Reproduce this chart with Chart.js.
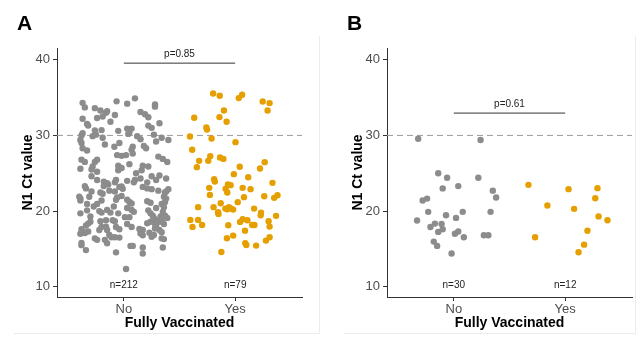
<!DOCTYPE html>
<html>
<head>
<meta charset="utf-8">
<script src="https://cdn.jsdelivr.net/npm/chart.js@4"></script>
<style>
  body { margin: 0; background: #fff; width: 643px; height: 342px; overflow: hidden; position: relative; }
  .panel { position: absolute; top: 0; height: 342px; }
  #panel-a { left: 0; width: 320px; }
  #panel-b { left: 330px; width: 313px; }
</style>
</head>
<body>
<div class="panel" id="panel-a"><canvas id="chart-a"></canvas></div>
<div class="panel" id="panel-b"><canvas id="chart-b"></canvas></div>
<script>
const categories = ['No', 'Yes'];
const yTicks = [10, 20, 30, 40];
const threshold = 30;

// panel A: all cases, jitter offset from the category centre + N1 Ct value
const noJitterA = [
  0.10, -0.065, -0.37, 0.03, 0.28, 0.28, -0.35, -0.26, -0.21, -0.15, -0.16, -0.08, 0.15, 0.19,
  0.22, -0.24, -0.19, -0.37, -0.33, -0.32, 0.22, 0.25, 0.03, 0.07, -0.12, 0.32,
  -0.26, -0.20, -0.37, -0.38, -0.28, -0.25, 0.04, 0.05, -0.05, 0.27, 0.34, 0.40, 0.12, 0.15, -0.39, -0.19, 0.18, 0.29,
  -0.38, 0.20, -0.085, -0.17, -0.04, 0.08, 0.07, -0.37, -0.33, 0.08, -0.02, 0.02, -0.06, 0.31,
  0.35, 0.39, 0.05, -0.38, -0.35, -0.24, -0.26, -0.39, -0.29, -0.28, -0.05, -0.02, -0.05, 0.22, 0.17, 0.16, 0.11, -0.24,
  0.10, 0.03, 0.32, 0.38, -0.07, -0.08, -0.18, -0.18, -0.14, -0.15, 0.09, -0.35, -0.34, -0.29, -0.24, 0.25, 0.29, 0.15, -0.04, -0.01, -0.02, 0.21,
  -0.40, -0.39, -0.39, -0.29, -0.21, -0.19, -0.13, -0.08, 0.17, 0.21, 0.25, 0.31, 0.37, 0.40, 0.38, -0.02, -0.06, -0.07, 0.03, 0.05, 0.07, 0.21, 0.24, 0.36, 0.38, -0.31,
  0.37, 0.34, 0.36, -0.20, -0.24, -0.27, -0.33, -0.33, -0.22, -0.20, -0.15, -0.12, -0.05, 0.03, 0.07, 0.09, 0.22, 0.24, 0.29, 0.35, 0.26, 0.27, 0.33, 0.37, 0.39, 0.05, 0.01, -0.39, -0.30, -0.09,
  0.29, 0.32, 0.34, 0.36, 0.28, 0.29, 0.24, 0.21, -0.10, -0.08, -0.16, -0.21, -0.30, -0.32, -0.34, -0.38, -0.36, -0.39, -0.35, -0.32, -0.20, -0.16, -0.22, -0.15, -0.07, -0.04, 0.03, 0.07, 0.14, 0.17,
  0.28, 0.32, 0.34, 0.23, 0.25, 0.27, 0.34, 0.36, 0.15, 0.17, -0.13, -0.11, -0.08, -0.04, -0.26, -0.24, -0.17, -0.15, -0.38, -0.38, 0.06, 0.08,
  0.17, 0.17, -0.34, 0.35, -0.07,
  0.02
];
const noCtA = [
  34.9, 34.5, 34.3, 34.2, 34.1, 33.8, 33.7, 33.6, 33.3, 33.2, 33.0, 32.7, 33.1, 32.8,
  32.4, 32.3, 32.5, 32.2, 31.5, 31.3, 31.3, 31.0, 30.9, 30.9, 31.8, 31.6,
  30.65, 30.7, 30.3, 30.0, 29.9, 30.1, 30.2, 30.4, 30.6, 30.1, 29.7, 29.4, 29.9, 29.5, 29.4, 29.7, 28.6, 29.2,
  29.0, 28.3, 28.5, 28.8, 29.0, 28.5, 28.1, 28.3, 28.0, 27.6, 27.3, 27.4, 27.4, 27.2,
  26.9, 26.5, 26.2, 26.8, 26.5, 26.8, 26.5, 25.6, 25.5, 25.9, 26.0, 25.7, 25.4, 25.9, 26.0, 25.4, 25.0, 25.2,
  24.1, 24.0, 24.7, 24.3, 24.1, 23.8, 23.9, 23.3, 23.5, 23.7, 23.8, 23.3, 23.0, 24.6, 24.1, 24.6, 24.1, 24.3, 23.2, 22.95, 23.25, 23.8,
  21.9, 21.65, 21.4, 22.6, 22.45, 22.3, 22.7, 22.6, 23.2, 23.0, 22.9, 22.7, 22.45, 22.9, 22.6, 22.0, 21.8, 21.5, 21.5, 21.2, 21.0, 21.3, 21.1, 21.9, 21.65, 21.9,
  21.2, 20.95, 20.5, 21.4, 20.95, 20.6, 20.95, 20.1, 20.0, 19.8, 20.15, 19.8, 19.7, 20.4, 20.15, 19.9, 20.1, 19.7, 20.4, 19.9, 19.4, 19.1, 19.3, 19.4, 19.1, 19.2, 19.2, 19.7, 19.3, 20.6,
  18.8, 18.6, 18.8, 18.3, 18.3, 18.0, 18.6, 18.4, 18.8, 18.65, 18.8, 18.65, 18.6, 18.35, 18.1, 17.6, 17.2, 17.0, 17.1, 17.3, 17.9, 17.95, 17.5, 17.5, 17.9, 17.6, 18.3, 17.9, 17.65, 17.5,
  17.7, 17.5, 17.2, 17.15, 16.6, 16.85, 16.4, 16.3, 17.05, 16.8, 16.85, 16.55, 16.55, 16.5, 16.4, 16.2, 16.2, 15.75, 15.8, 15.5, 15.4, 15.4,
  15.2, 14.4, 14.85, 15.2, 14.55,
  12.35
];
const yesJitterA = [
  -0.198, -0.139, 0.032, 0.062, 0.247, 0.309, 0.291, -0.101, -0.368, -0.141,
  -0.077, -0.259, -0.253, -0.406, -0.212, 0.003, -0.386, -0.224, -0.136, -0.106,
  -0.324, -0.242, 0.265, -0.344, 0.041, 0.223, -0.012, 0.117, -0.189, -0.183,
  0.335, -0.065, -0.041, -0.233, 0.067, 0.138, -0.086, -0.071, -0.227, 0.079,
  0.261, 0.35, 0.38, 0.023, -0.13, -0.333, -0.194, -0.088, -0.056, -0.035,
  -0.071, -0.018, 0.17, -0.154, -0.15, 0.232, 0.229, 0.367, -0.403, -0.333,
  -0.383, -0.297, -0.062, 0.044, 0.067, 0.11, 0.153, 0.173, 0.3, 0.309,
  0.088, -0.074, -0.018, 0.091, 0.1, 0.188, 0.276, 0.309, -0.124
];
const yesCtA = [
  35.54, 35.24, 34.93, 35.37, 34.48, 34.27, 33.29, 33.29, 32.33, 32.42,
  31.8, 31.04, 30.78, 29.85, 29.59, 29.11, 28.1, 27.26, 27.08, 26.9,
  26.64, 26.64, 26.47, 25.81, 25.85, 25.62, 24.88, 24.48, 24.22, 23.9,
  23.73, 23.51, 23.43, 23.07, 23.07, 22.9, 22.94, 22.45, 22.14, 21.84,
  21.97, 21.75, 22.1, 21.18, 21.04, 20.52, 20.52, 20.33, 20.52, 20.33,
  20.25, 20.2, 20.33, 19.85, 19.63, 19.8, 19.46, 19.37, 18.84, 18.84,
  17.91, 18.17, 18.13, 18.57, 18.93, 18.8, 18.17, 18.17, 18.66, 17.95,
  17.42, 16.42, 16.76, 15.75, 15.53, 15.44, 16.1, 16.55, 14.6
];

// panel B
const noJitterB = [
  -0.32, 0.24, -0.14, -0.06, 0.22, -0.10, 0.04, 0.35, 0.38, -0.28,
  -0.24, -0.23, 0.08, 0.33, -0.33, -0.07, 0.02, -0.17, -0.11, -0.21,
  -0.10, -0.14, 0.04, 0.01, 0.09, 0.27, 0.31, -0.18, -0.15, -0.02
];
const noCtB = [
  29.55, 29.4, 25.0, 24.4, 24.4, 23.0, 23.3, 22.7, 21.8, 21.4,
  21.65, 19.9, 19.9, 19.9, 18.75, 19.45, 19.1, 18.35, 18.3, 17.9,
  17.6, 17.25, 17.3, 17.0, 16.55, 16.8, 16.8, 15.97, 15.4, 14.4
];
const yesJitterB = [-0.33, 0.03, -0.16, 0.08, -0.27, 0.20, 0.17, 0.12, 0.29, 0.27, 0.30, 0.38];
const yesCtB = [23.47, 22.9, 20.73, 20.3, 16.55, 17.4, 15.57, 14.56, 23.03, 21.7, 19.3, 18.8];

const panelLetters = ['A', 'B'];
const pLabels = ['p=0.85', 'p=0.61'];
const pBarCt = [39.55, 32.95];

const font = 'Liberation Sans, Arial, sans-serif';
const pointColors = ['#8c8c8c', '#e69f00'];

function toPoints(jitter, ct, group) {
  return ct.map((v, i) => ({ x: group + jitter[i], y: v }));
}

// dashed cut-off, p-value bracket, group sizes and panel letter
const annotations = {
  id: 'annotations',
  beforeDatasetsDraw(chart, args, opts) {
    const { ctx, chartArea, scales } = chart;
    const y = scales.y.getPixelForValue(threshold);
    ctx.save();
    ctx.strokeStyle = '#9a9a9a';
    ctx.lineWidth = 1;
    ctx.setLineDash([6, 4]);
    ctx.beginPath();
    ctx.moveTo(chartArea.left, y);
    ctx.lineTo(chartArea.right, y);
    ctx.stroke();
    ctx.restore();
  },
  afterDatasetsDraw(chart, args, opts) {
    const { ctx, scales } = chart;
    const x = scales.x, y = scales.y;
    ctx.save();
    const barY = y.getPixelForValue(opts.barCt);
    ctx.strokeStyle = '#333';
    ctx.lineWidth = 1;
    ctx.beginPath();
    ctx.moveTo(x.getPixelForValue(1), barY);
    ctx.lineTo(x.getPixelForValue(2), barY);
    ctx.stroke();

    ctx.fillStyle = '#222';
    ctx.font = '10px ' + font;
    ctx.textAlign = 'center';
    ctx.textBaseline = 'alphabetic';
    ctx.fillText(opts.pLabel, x.getPixelForValue(1.5), barY - 6);

    ctx.textBaseline = 'middle';
    opts.counts.forEach((n, i) => {
      ctx.fillText('n=' + n, x.getPixelForValue(i + 1), y.getPixelForValue(10.25));
    });

    ctx.fillStyle = '#000';
    ctx.font = 'bold 21px ' + font;
    ctx.textAlign = 'left';
    ctx.textBaseline = 'alphabetic';
    ctx.fillText(opts.letter, 17, 30);

    // thin frame around the panel
    ctx.strokeStyle = '#ececec';
    ctx.beginPath();
    ctx.moveTo(opts.frameRight, 36);
    ctx.lineTo(opts.frameRight, 333.5);
    ctx.lineTo(14, 333.5);
    ctx.stroke();
    ctx.restore();
  }
};

function makeChart(canvasId, idx, sets, rightPad, frameRight) {
  const datasets = sets.map((s, g) => ({
    data: toPoints(s[0], s[1], g + 1),
    backgroundColor: pointColors[g],
    borderWidth: 0,
    pointRadius: 3.2
  }));
  return new Chart(document.getElementById(canvasId), {
    type: 'scatter',
    data: { datasets },
    options: {
      responsive: true,
      maintainAspectRatio: false,
      animation: false,
      events: [],
      layout: { padding: { left: 0, top: 48, right: rightPad, bottom: 0 } },
      plugins: {
        legend: { display: false },
        tooltip: { enabled: false },
        annotations: {
          letter: panelLetters[idx],
          pLabel: pLabels[idx],
          barCt: pBarCt[idx],
          counts: sets.map(s => s[1].length),
          frameRight
        }
      },
      scales: {
        x: {
          type: 'linear',
          min: 0.4,
          max: 2.6,
          afterBuildTicks: s => { s.ticks = categories.map((c, i) => ({ value: i + 1 })); },
          afterFit: s => { s.height = 45; },
          ticks: {
            callback: v => categories[v - 1],
            color: '#4d4d4d',
            font: { family: font, size: 13 },
            padding: 1,
            maxRotation: 0,
            autoSkip: false
          },
          grid: { display: true, drawOnChartArea: false, drawTicks: true, tickLength: 4, color: '#333', lineWidth: 1 },
          border: { display: true, color: '#333', width: 1 },
          title: {
            display: true,
            text: 'Fully Vaccinated',
            color: '#000',
            font: { family: font, size: 14, weight: 'bold' },
            padding: { top: 0, bottom: 10 }
          }
        },
        y: {
          type: 'linear',
          min: 8.65,
          max: 41.55,
          afterBuildTicks: s => { s.ticks = yTicks.map(v => ({ value: v })); },
          afterFit: s => { s.width = 57; },
          ticks: {
            color: '#4d4d4d',
            font: { family: font, size: 13 },
            padding: 3
          },
          grid: { display: true, drawOnChartArea: false, drawTicks: true, tickLength: 4, color: '#333', lineWidth: 1 },
          border: { display: true, color: '#333', width: 1 },
          title: {
            display: true,
            text: 'N1 Ct value',
            color: '#000',
            font: { family: font, size: 14, weight: 'bold' },
            padding: { top: 20, bottom: 0 }
          }
        }
      }
    },
    plugins: [annotations]
  });
}

makeChart('chart-a', 0, [[noJitterA, noCtA], [yesJitterA, yesCtA]], 18, 319.5);
makeChart('chart-b', 1, [[noJitterB, noCtB], [yesJitterB, yesCtB]], 11, 305.5);
</script>
</body>
</html>
